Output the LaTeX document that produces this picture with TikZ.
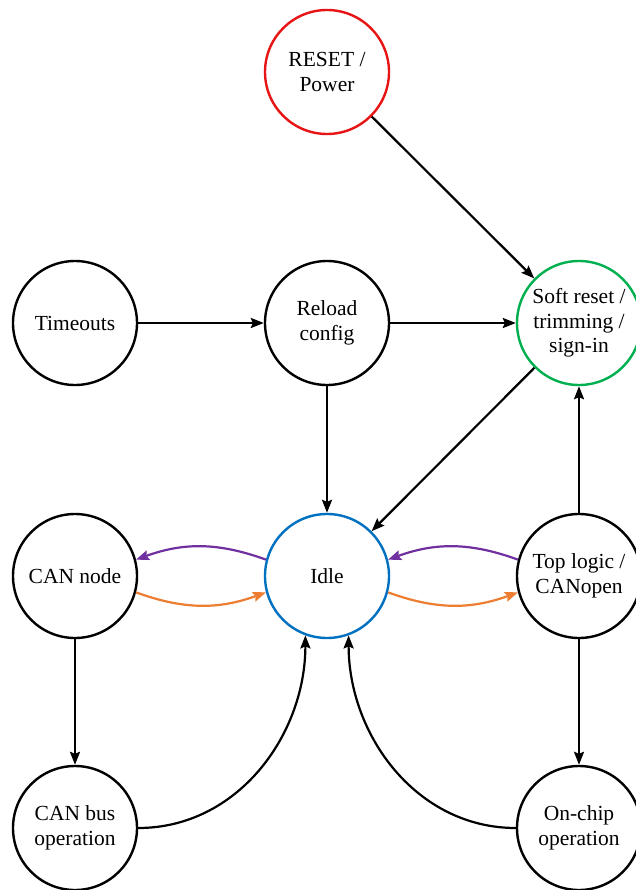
\documentclass[tikz,border=0pt]{standalone}
\usepackage{fontspec}
\setmainfont{Liberation Serif}
\usetikzlibrary{arrows.meta}
\definecolor{resetred}{RGB}{230,20,20}
\definecolor{softgreen}{RGB}{0,176,80}
\definecolor{idleblue}{RGB}{0,112,192}
\definecolor{backpurple}{RGB}{112,48,160}
\definecolor{gorange}{RGB}{237,125,49}
\begin{document}
\begin{tikzpicture}[x=1pt,y=-1pt,
  state/.style={circle,draw=black,line width=2.4pt,minimum size=124pt,inner sep=0pt,
    align=center,font=\fontsize{21.5}{24.5}\selectfont},
  conn/.style={line width=2.2pt,-{Stealth[length=13pt,width=10pt,inset=2pt]}},
]
\useasboundingbox (0,0) rectangle (635,890);
\node[state,draw=resetred] (reset) at (327,72) {RESET /\\Power};
\node[state] (timeouts) at (75,323) {Timeouts};
\node[state] (reload) at (327,323) {Reload\\config};
\node[state,draw=softgreen] (soft) at (579,323) {Soft reset /\\trimming /\\sign-in};
\node[state] (cannode) at (75,576) {CAN node};
\node[state,draw=idleblue] (idle) at (327,576) {Idle};
\node[state] (toplogic) at (579,576) {Top logic /\\CANopen};
\node[state] (canbus) at (75,828) {CAN bus\\operation};
\node[state] (onchip) at (579,828) {On-chip\\operation};

\draw[conn] (reset) -- (soft);
\draw[conn] (timeouts) -- (reload);
\draw[conn] (reload) -- (soft);
\draw[conn] (reload) -- (idle);
\draw[conn] (soft) -- (idle);
\draw[conn] (toplogic) -- (soft);
\draw[conn] (cannode) -- (canbus);
\draw[conn] (toplogic) -- (onchip);
\draw[conn] (canbus.east) to[out=0,in=-90] (idle.-110);
\draw[conn] (onchip.west) to[out=180,in=-90] (idle.-70);

\draw[conn,backpurple] (idle.165) to[out=160,in=20] (cannode.15);
\draw[conn,gorange] (cannode.-15) to[out=-20,in=-160] (idle.-165);
\draw[conn,backpurple] (toplogic.165) to[out=160,in=20] (idle.15);
\draw[conn,gorange] (idle.-15) to[out=-20,in=-160] (toplogic.-165);
\end{tikzpicture}
\end{document}
